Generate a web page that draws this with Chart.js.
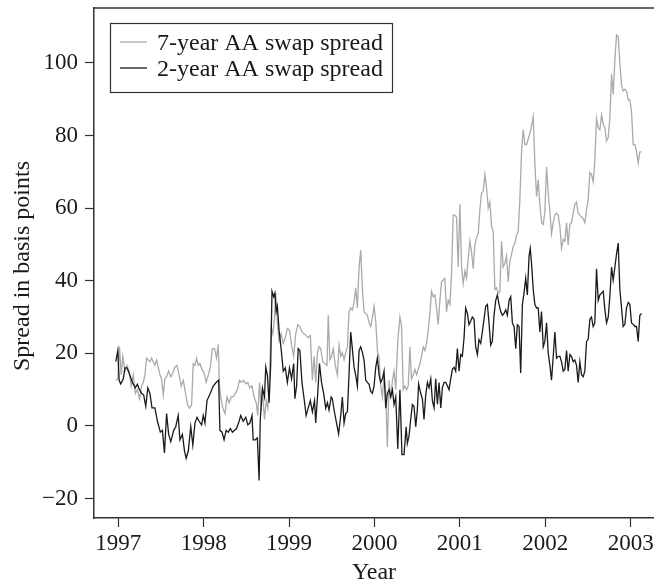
<!DOCTYPE html>
<html>
<head>
<meta charset="utf-8">
<title>AA swap spreads</title>
<script src="https://cdn.jsdelivr.net/npm/chart.js@4.4.1/dist/chart.umd.min.js"></script>
<style>
  html, body { margin: 0; padding: 0; background: #fff; }
  #spread-chart { display: block; }
</style>
</head>
<body>
<canvas id="spread-chart" width="654" height="582"></canvas>
<script>
// decimal years
const yearTicks = [1997, 1998, 1999, 2000, 2001, 2002, 2003];
const spreadTicks = [-20, 0, 20, 40, 60, 80, 100];

const dates7 = [1996.971,1996.995,1997.015,1997.034,1997.054,1997.078,1997.102,1997.127,1997.151,1997.176,1997.200,1997.224,1997.249,1997.273,1997.293,1997.312,1997.332,1997.351,1997.371,1997.390,1997.410,1997.429,1997.449,1997.468,1997.488,1997.507,1997.527,1997.546,1997.566,1997.590,1997.615,1997.639,1997.663,1997.688,1997.712,1997.737,1997.761,1997.785,1997.810,1997.834,1997.859,1997.878,1997.898,1997.917,1997.937,1997.956,1997.980,1998.005,1998.029,1998.054,1998.078,1998.102,1998.127,1998.151,1998.171,1998.185,1998.200,1998.224,1998.249,1998.273,1998.298,1998.322,1998.346,1998.371,1998.395,1998.420,1998.444,1998.468,1998.493,1998.517,1998.541,1998.566,1998.590,1998.615,1998.634,1998.654,1998.673,1998.688,1998.712,1998.732,1998.751,1998.766,1998.790,1998.810,1998.829,1998.844,1998.863,1998.883,1998.907,1998.932,1998.956,1998.980,1999.005,1999.029,1999.054,1999.078,1999.102,1999.127,1999.151,1999.176,1999.200,1999.224,1999.249,1999.273,1999.293,1999.312,1999.332,1999.351,1999.371,1999.395,1999.420,1999.444,1999.459,1999.478,1999.498,1999.517,1999.541,1999.566,1999.585,1999.605,1999.624,1999.644,1999.663,1999.683,1999.702,1999.722,1999.741,1999.761,1999.780,1999.800,1999.820,1999.839,1999.859,1999.878,1999.898,1999.917,1999.937,1999.956,1999.976,1999.995,2000.015,2000.034,2000.054,2000.073,2000.093,2000.112,2000.132,2000.151,2000.171,2000.190,2000.210,2000.229,2000.249,2000.273,2000.298,2000.317,2000.337,2000.356,2000.376,2000.395,2000.415,2000.434,2000.454,2000.473,2000.493,2000.512,2000.532,2000.551,2000.571,2000.590,2000.610,2000.629,2000.649,2000.668,2000.688,2000.707,2000.727,2000.746,2000.766,2000.785,2000.805,2000.824,2000.844,2000.863,2000.883,2000.902,2000.922,2000.941,2000.961,2000.980,2001.000,2001.020,2001.039,2001.059,2001.078,2001.098,2001.117,2001.137,2001.156,2001.176,2001.195,2001.215,2001.234,2001.254,2001.273,2001.293,2001.312,2001.332,2001.351,2001.371,2001.390,2001.410,2001.429,2001.449,2001.468,2001.488,2001.507,2001.527,2001.546,2001.566,2001.585,2001.605,2001.624,2001.644,2001.663,2001.683,2001.702,2001.722,2001.741,2001.761,2001.780,2001.800,2001.820,2001.839,2001.859,2001.878,2001.898,2001.917,2001.937,2001.956,2001.976,2001.995,2002.015,2002.034,2002.054,2002.073,2002.093,2002.112,2002.132,2002.151,2002.171,2002.190,2002.210,2002.229,2002.249,2002.268,2002.288,2002.307,2002.327,2002.346,2002.366,2002.385,2002.405,2002.424,2002.444,2002.463,2002.483,2002.502,2002.522,2002.541,2002.561,2002.580,2002.600,2002.620,2002.639,2002.659,2002.678,2002.698,2002.717,2002.737,2002.756,2002.776,2002.795,2002.815,2002.834,2002.854,2002.873,2002.893,2002.912,2002.932,2002.951,2002.971,2002.990,2003.010,2003.029,2003.049,2003.068,2003.088,2003.107,2003.127];
const spread7 = [12.6,13,21.8,14.1,19.2,15.1,16.7,15.1,11,14.1,9,10,7.5,11,12,14,18.7,18.2,17.7,18.7,17.7,16.7,18.2,16.2,14.1,13,8.5,13,13.6,15.1,13.6,14.6,16.2,16.7,14.1,11,12.6,9.5,5.9,4.9,5.9,17.2,16.7,18.7,16.7,17.2,15.6,14.6,12,14,16.2,21.3,21.3,18.7,22.5,11,8,4.9,3.4,8,6.4,8,8,9,10,12.6,12,12.6,11.6,12,10.5,11,8,6.4,2.9,12,4,10,1.8,7,4.9,10,27.4,25.4,29.4,36.6,28.4,23.3,25.4,22.8,24.3,26.9,26.4,22.3,19.2,25.4,27.9,27.4,25.9,25.4,24.9,24.3,24.9,12.6,19.2,12,20.2,21.8,21.3,17.7,17.2,16.7,30.5,18.2,19.2,21.3,16.7,14.1,22.3,19.2,20.2,18.2,20.2,21.8,31.5,32.5,32,34,38.1,32.5,43.8,48.4,37.6,31.5,31,30.5,28.4,27.4,30,33,28.9,20.8,18.7,11,8,14.1,9,-5.8,12.6,7.5,12.6,15.1,10,23.3,30,27.4,10,11,10,11,21.8,13,14.1,15.6,14.1,15.6,17.2,19.2,21.8,20.8,22.8,26.4,31,37.1,35.6,36.1,32.5,27.9,34.6,39.7,40.2,40.7,31.5,34.6,33.5,41.7,58.1,58.1,57.5,43.8,61.1,43.8,39.2,42.7,40.7,46.3,50.9,47.9,43.3,49.9,51.9,53,59.6,64.2,64.7,69.3,65.7,60.1,61.7,55,53.5,37.6,38.1,36.6,37,50.9,43.8,44.8,46.8,39.7,45.4,47.3,49.4,50.4,52.5,53.5,62.2,75.5,81.6,77.5,77.5,79,80.6,82.6,85.2,72.4,63.2,67.8,61.1,56,55.5,59.1,71.4,64.2,59.1,53,56,58.1,58.6,58.1,55,48.9,51.4,50.9,56,49.9,55.5,56,58.6,61.1,61.7,58.6,58.1,57.5,57.1,56,59.6,62.2,69.8,69.3,67.3,72.9,84.7,82.1,81.6,85.7,83.2,82.1,78.5,79.5,84.7,96.9,91.3,101,107.7,107.2,100,93.9,92.3,92.8,92.3,89.8,89.8,86.7,77.5,77.5,75.5,72.4,75.5,75.5];

const dates2 = [1996.971,1996.995,1997.010,1997.029,1997.059,1997.078,1997.102,1997.127,1997.166,1997.200,1997.224,1997.249,1997.273,1997.298,1997.322,1997.346,1997.371,1997.395,1997.429,1997.459,1997.493,1997.517,1997.541,1997.566,1997.590,1997.615,1997.649,1997.673,1997.702,1997.722,1997.751,1997.776,1997.795,1997.820,1997.849,1997.873,1997.898,1997.922,1997.946,1997.976,1997.995,1998.015,1998.039,1998.078,1998.112,1998.151,1998.176,1998.190,1998.215,1998.239,1998.263,1998.288,1998.312,1998.337,1998.361,1998.385,1998.415,1998.434,1998.463,1998.493,1998.517,1998.541,1998.566,1998.580,1998.605,1998.629,1998.649,1998.663,1998.688,1998.712,1998.727,1998.746,1998.766,1998.785,1998.800,1998.820,1998.834,1998.849,1998.863,1998.883,1998.907,1998.932,1998.956,1998.980,1999.005,1999.029,1999.054,1999.068,1999.088,1999.107,1999.127,1999.151,1999.176,1999.200,1999.224,1999.249,1999.273,1999.298,1999.312,1999.337,1999.356,1999.380,1999.405,1999.429,1999.449,1999.468,1999.493,1999.507,1999.527,1999.556,1999.580,1999.605,1999.624,1999.644,1999.663,1999.683,1999.702,1999.722,1999.741,1999.761,1999.780,1999.800,1999.820,1999.839,1999.859,1999.878,1999.898,1999.917,1999.937,1999.956,1999.976,1999.995,2000.015,2000.034,2000.054,2000.073,2000.093,2000.112,2000.132,2000.151,2000.171,2000.190,2000.210,2000.229,2000.249,2000.273,2000.298,2000.322,2000.346,2000.371,2000.385,2000.405,2000.424,2000.444,2000.463,2000.483,2000.502,2000.517,2000.541,2000.561,2000.580,2000.600,2000.620,2000.639,2000.659,2000.678,2000.698,2000.717,2000.737,2000.756,2000.776,2000.795,2000.815,2000.834,2000.854,2000.873,2000.893,2000.912,2000.932,2000.951,2000.971,2000.990,2001.010,2001.029,2001.049,2001.068,2001.088,2001.107,2001.127,2001.146,2001.166,2001.185,2001.205,2001.224,2001.244,2001.263,2001.283,2001.302,2001.322,2001.341,2001.361,2001.380,2001.400,2001.420,2001.439,2001.459,2001.478,2001.498,2001.517,2001.537,2001.556,2001.576,2001.595,2001.615,2001.634,2001.654,2001.673,2001.693,2001.712,2001.732,2001.751,2001.771,2001.790,2001.810,2001.824,2001.839,2001.859,2001.878,2001.898,2001.917,2001.937,2001.956,2001.976,2001.995,2002.015,2002.034,2002.054,2002.073,2002.093,2002.112,2002.132,2002.151,2002.171,2002.190,2002.210,2002.229,2002.249,2002.268,2002.288,2002.307,2002.327,2002.346,2002.366,2002.385,2002.405,2002.424,2002.444,2002.463,2002.483,2002.502,2002.522,2002.541,2002.561,2002.580,2002.600,2002.620,2002.639,2002.659,2002.678,2002.698,2002.717,2002.737,2002.756,2002.776,2002.795,2002.815,2002.834,2002.854,2002.873,2002.893,2002.912,2002.932,2002.951,2002.971,2002.990,2003.010,2003.029,2003.049,2003.068,2003.088,2003.107,2003.127];
const spread2 = [17.7,20.8,12.6,11.6,13,16,16,14.6,12,10.5,11.5,10,9,8.5,5.4,10.5,9,5,5,1.3,-1.7,-1.2,-7.4,3.4,-2.3,-4.3,-1.2,-0.2,2.9,-3.8,-2.3,-6.9,-8.9,-6.9,-0.2,-5.3,0.8,2.4,1.3,0.3,2.9,0.8,7,9,11,12.1,12.6,-1.2,-1.7,-3.8,-1.2,-1.7,-0.7,-1.7,-1.2,-0.7,1.3,2.9,1.3,2.4,0.3,0.8,2.9,-3.8,-3.8,-3.3,-15,1.8,10.5,8,16.2,14,6.4,17,37.1,35.6,36.6,31.5,33,26.4,21.3,15.1,16,12,16,13,17.2,7.5,11,21.3,20.8,12,7.5,2.9,4.9,7,3.9,7,0.8,9.5,17.2,12,9,4.9,6.4,4.4,8,7.5,4.4,0.8,-2.2,2.9,8,0.8,3.4,3.9,14.1,25.9,21.3,16.2,14,11,20.8,21.8,20.2,18.2,12.6,12,11.5,9.5,9,11,16.2,18.7,14.1,12,13,15.1,4.9,9,10,8,10,5.9,8,-6.3,10,-7.9,-7.9,-0.2,-4.8,-2.7,1.8,5.9,5.4,-0.2,4.4,11.6,9,7.5,1.8,8.5,12,10.5,13,7,5,13,6,12,5,10.5,12,12,11,10,13,15.6,16.2,15.1,21.3,15.1,19.7,19.2,24.3,32.5,31,27.9,28.9,30,29.4,21.8,19.7,23.8,22.8,25.9,29.4,33,33.5,28.4,22.3,23.3,30.5,34.6,36.1,33.5,31.5,30.5,31,32,30.5,34.6,35.6,28.4,27.4,21.3,27.9,27.4,14.6,33.5,36.6,40.7,36.1,46.8,48.9,44.8,37.6,33.5,32.5,32.5,25.9,31.5,21.8,23.3,28.4,20.2,16.7,12.6,19.2,25.9,18.7,19.2,19.2,17.7,15.1,15.6,20.8,15.1,19.7,19.2,17.7,18.2,16.7,12,17.7,14.1,13.6,15.1,23.3,23.8,29.4,30,27.4,28.4,43.3,34.6,36.1,36.6,37.1,32,28.4,30,35.6,43.8,40.2,43.8,47.3,50.4,37.6,32.5,27.4,28,32.5,34,33.5,28.4,28,27.4,27.4,23.3,30.5,31];

const serif = "'Liberation Serif', 'DejaVu Serif', serif";

// legend, axis titles and the top frame line
const framePlugin = {
    id: 'frame',
    afterDraw(chart) {
        const ctx = chart.ctx;
        const area = chart.chartArea;
        ctx.save();

        ctx.strokeStyle = '#333';
        ctx.lineWidth = 1.5;
        ctx.beginPath();
        ctx.moveTo(area.left, area.top);
        ctx.lineTo(chart.width, area.top);
        ctx.stroke();

        // legend box
        ctx.fillStyle = '#fff';
        ctx.fillRect(110, 23, 282, 69);
        ctx.lineWidth = 1.2;
        ctx.strokeStyle = '#333';
        ctx.strokeRect(110.5, 23.5, 282, 69);

        ctx.lineWidth = 1.3;
        ctx.strokeStyle = '#aaaaaa';
        ctx.beginPath();
        ctx.moveTo(120, 42);
        ctx.lineTo(147, 42);
        ctx.stroke();
        ctx.strokeStyle = '#1a1a1a';
        ctx.beginPath();
        ctx.moveTo(120, 68);
        ctx.lineTo(147, 68);
        ctx.stroke();

        ctx.fillStyle = '#1a1a1a';
        ctx.font = '24px ' + serif;
        ctx.textAlign = 'left';
        ctx.textBaseline = 'alphabetic';
        ctx.fillText('7-year AA swap spread', 157, 50);
        ctx.fillText('2-year AA swap spread', 157, 76);

        // axis titles
        ctx.textAlign = 'center';
        ctx.fillText('Year', 374, 579);
        ctx.translate(29, 266);
        ctx.rotate(-Math.PI / 2);
        ctx.fillText('Spread in basis points', 0, 0);

        ctx.restore();
    }
};

new Chart(document.getElementById('spread-chart'), {
    type: 'line',
    data: {
        datasets: [
            {
                label: '2-year AA swap spread',
                data: dates2.map((d, i) => ({ x: d, y: spread2[i] })),
                borderColor: '#1a1a1a',
                borderWidth: 1.3,
                pointRadius: 0,
                tension: 0,
                order: 1
            },
            {
                label: '7-year AA swap spread',
                data: dates7.map((d, i) => ({ x: d, y: spread7[i] })),
                borderColor: '#aaaaaa',
                borderWidth: 1.3,
                pointRadius: 0,
                tension: 0,
                order: 2
            }
        ]
    },
    options: {
        responsive: false,
        animation: false,
        devicePixelRatio: 1,
        layout: { padding: { top: 8, left: 0, right: 0, bottom: 0 } },
        plugins: {
            legend: { display: false },
            tooltip: { enabled: false }
        },
        scales: {
            x: {
                type: 'linear',
                min: 1996.716,
                max: 2003.273,
                afterBuildTicks: (scale) => { scale.ticks = yearTicks.map(v => ({ value: v })); },
                afterFit: (scale) => {
                    scale.height = 64;
                    scale.paddingLeft = 0;
                    scale.paddingRight = 0;
                },
                border: { display: true, color: '#333', width: 1.5 },
                grid: { drawOnChartArea: false, drawTicks: true, tickLength: 9, tickColor: '#333', tickWidth: 1.2 },
                ticks: {
                    color: '#1a1a1a',
                    font: { family: serif, size: 23 },
                    padding: 3,
                    maxRotation: 0,
                    callback: (v) => String(v)
                }
            },
            y: {
                min: -25.35,
                max: 115.15,
                afterBuildTicks: (scale) => { scale.ticks = spreadTicks.map(v => ({ value: v })); },
                afterFit: (scale) => {
                    scale.width = 94;
                    scale.paddingTop = 0;
                    scale.paddingBottom = 0;
                },
                border: { display: true, color: '#333', width: 1.5 },
                grid: { drawOnChartArea: false, drawTicks: true, tickLength: 9, tickColor: '#333', tickWidth: 1.2 },
                ticks: {
                    color: '#1a1a1a',
                    font: { family: serif, size: 23 },
                    padding: 7,
                    callback: (v) => v < 0 ? '\u2212' + Math.abs(v) : String(v)
                }
            }
        }
    },
    plugins: [framePlugin]
});
</script>
</body>
</html>
